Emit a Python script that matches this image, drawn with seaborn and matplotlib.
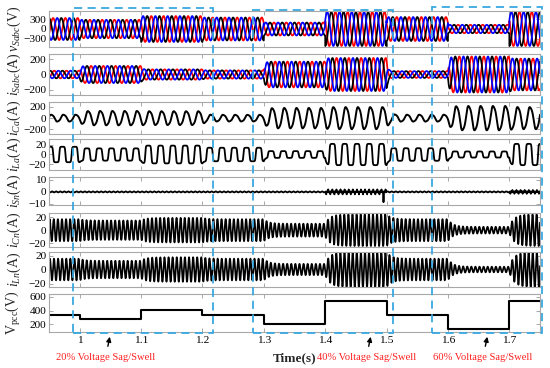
import numpy as np
import pandas as pd
import matplotlib
matplotlib.use("Agg")
import matplotlib.pyplot as plt
import seaborn as sns
from matplotlib.patches import Rectangle
from matplotlib.transforms import blended_transform_factory

# ---------------- data ----------------
seg_edges = [0.95, 1.0, 1.1, 1.2, 1.3, 1.4, 1.5, 1.6, 1.7, 1.75]
vpcc = [340, 275, 410, 340, 205, 540, 340, 135, 545]          # V
vs_amp = [340, 285, 400, 355, 200, 525, 370, 130, 525]         # V
is_amp = [50, 113, 68, 55, 170, 218, 45, 238, 210]             # A
ica_amp = [62, 130, 125, 60, 185, 200, 62, 220, 200]           # A
ila_amp = [16, 12.7, 18.4, 14, 7, 22, 13, 6.3, 22]             # A
icn_amp = [17, 15, 19, 17, 10, 24.5, 17, 5.2, 24.5]            # A
iln_amp = [15.5, 12.5, 17.5, 15.5, 8, 25, 15.5, 4, 25]         # A
isn_ripple = 0.4
isn_spike_start = [1.40, 1.70]
isn_spike_end = [1.50, 1.75]
isn_spike_amp = [2.5, 2.0]
isn_big_spike_t = [1.495]
isn_big_spike_amp = [-6.5]

xticks = [1.0, 1.1, 1.2, 1.3, 1.4, 1.5, 1.6, 1.7]
xtick_labels = ["1", "1.1", "1.2", "1.3", "1.4", "1.5", "1.6", "1.7"]
ylabels = [r"$v_{Sabc}$(V)", r"$i_{Sabc}$(A)", r"$i_{Ca}$(A)", r"$i_{La}$(A)",
           r"$i_{Sn}$(A)", r"$i_{Cn}$(A)", r"$i_{Ln}$(A)", r"$\mathrm{V_{pcc}}$(V)"]
yticks = [[-300, 0, 300], [-200, 0, 200], [-200, 0, 200], [-20, 0, 20],
          [-10, 0, 10], [-20, 0, 20], [-20, 0, 20], [200, 400, 600]]
ylims = [(-555, 555), (-270, 270), (-280, 285), (-32, 32),
         (-11, 12.5), (-26, 26.5), (-25, 25), (90, 640)]
box_spans = [(0.989, 1.217), (1.283, 1.511), (1.574, 1.753)]
box_labels = ["20% Voltage Sag/Swell", "40% Voltage Sag/Swell", "60% Voltage Sag/Swell"]
box_label_x = [1.042, 1.467, 1.657]

# ---------------- waveforms ----------------
dt = 1e-4
t = np.arange(seg_edges[0], seg_edges[-1] + 1e-9, dt)
w = 2 * np.pi * 50


def envelope(amps, tau=0.0):
    idx = np.clip(np.searchsorted(seg_edges, t, side="right") - 1, 0, len(amps) - 1)
    e = np.asarray(amps, float)[idx]
    if tau > 0:
        e = pd.Series(e).ewm(alpha=dt / tau).mean().to_numpy()
    return e


ph = w * (t - 0.95)
phases = {"a": -2 * np.pi / 3, "b": 0.0, "c": 2 * np.pi / 3}
order = ["a", "b", "c"]
pal = {"a": "#ff0000", "b": "#000000", "c": "#0000ff"}

env_vs = envelope(vs_amp)
df_vs = pd.concat([pd.DataFrame({"t": t, "y": env_vs * np.cos(ph + phases[p]), "phase": p})
                   for p in order], ignore_index=True)
env_is = envelope(is_amp, 0.002)
df_is = pd.concat([pd.DataFrame({"t": t, "y": env_is * np.cos(ph + phases[p] - 0.6), "phase": p})
                   for p in order], ignore_index=True)

ica = envelope(ica_amp, 0.004) * (np.sin(ph + 0.3) + 0.08 * np.sin(3 * ph))
ila = envelope(ila_amp, 0.002) * np.tanh(3.5 * np.sin(ph + 1.0)) / np.tanh(3.5)
isn = isn_ripple * np.sin(3 * w * t)
for s0, s1, a in zip(isn_spike_start, isn_spike_end, isn_spike_amp):
    m = (t >= s0) & (t <= s1)
    isn[m] += a * np.sin(3 * ph[m]) ** 41
for ts, a in zip(isn_big_spike_t, isn_big_spike_amp):
    isn += a * np.exp(-((t - ts) / 3e-4) ** 2)
icn = envelope(icn_amp, 0.008) * np.sin(3 * ph + 0.5)
iln = envelope(iln_amp, 0.008) * np.sin(3 * ph + 0.2)

# ---------------- style ----------------
sns.set_theme(style="white")
plt.rcParams["font.family"] = ["Liberation Serif", "DejaVu Serif"]
plt.rcParams["mathtext.fontset"] = "custom"
plt.rcParams["mathtext.rm"] = "Liberation Serif"
plt.rcParams["mathtext.it"] = "Liberation Serif:italic"
plt.rcParams["mathtext.bf"] = "Liberation Serif:bold"
plt.rcParams["axes.unicode_minus"] = True

W, H = 550, 368
fig = plt.figure(figsize=(W / 100, H / 100), dpi=100)
fig.patch.set_facecolor("white")
panel_px = [(11, 47), (54, 95), (102, 134), (139, 170), (177, 205),
            (213, 247), (252, 287), (294, 332)]
left_px, right_px = 49, 540
axes = []
for top, bot in panel_px:
    ax = fig.add_axes([left_px / W, 1 - bot / H, (right_px - left_px) / W, (bot - top) / H])
    axes.append(ax)

sns.lineplot(data=df_vs, x="t", y="y", hue="phase", hue_order=order, palette=pal,
             ax=axes[0], lw=1.25, legend=False, estimator=None, sort=False)
sns.lineplot(data=df_is, x="t", y="y", hue="phase", hue_order=order, palette=pal,
             ax=axes[1], lw=1.25, legend=False, estimator=None, sort=False)
sns.lineplot(x=t, y=ica, ax=axes[2], color="black", lw=1.4, estimator=None, sort=False)
sns.lineplot(x=t, y=ila, ax=axes[3], color="black", lw=1.3, estimator=None, sort=False)
sns.lineplot(x=t, y=isn, ax=axes[4], color="black", lw=1.3, estimator=None, sort=False)
sns.lineplot(x=t, y=icn, ax=axes[5], color="black", lw=1.25, estimator=None, sort=False)
sns.lineplot(x=t, y=iln, ax=axes[6], color="black", lw=1.25, estimator=None, sort=False)
sns.lineplot(x=seg_edges, y=vpcc + [vpcc[-1]], ax=axes[7], color="black", lw=1.5,
             drawstyle="steps-post", estimator=None, sort=False)

frame = "#a8a8a8"
for i, ax in enumerate(axes):
    ax.set_xlim(seg_edges[0], seg_edges[-1])
    ax.set_ylim(*ylims[i])
    ax.set_yticks(yticks[i])
    ax.set_yticklabels([str(v).replace("-", "\u2212") for v in yticks[i]])
    ax.set_xticks(xticks)
    ax.tick_params(direction="in", length=3, width=0.7, color=frame, labelsize=8.2,
                   left=True, right=True, top=True, bottom=True, pad=2,
                   labelcolor="black")
    for sp in ax.spines.values():
        sp.set_color(frame)
        sp.set_linewidth(0.8)
    ax.set_ylabel(ylabels[i], fontsize=10, labelpad=0)
    ax.yaxis.set_label_coords(-0.053, 0.5)
    if i < 7:
        ax.set_xticklabels([])
        ax.set_xlabel("")
    else:
        ax.set_xticklabels(xtick_labels)
        ax.set_xlabel("Time(s)", fontsize=9.5, fontweight="bold")
        ax.xaxis.set_label_coords(0.5, -0.53)
        ax.tick_params(axis="x", pad=3)

# dashed highlight boxes and their notes
trans = blended_transform_factory(axes[7].transData, fig.transFigure)
box_top_px = [8, 10, 7]
box_bot_px = 333
for (x0, x1), tp in zip(box_spans, box_top_px):
    y0 = 1 - box_bot_px / H
    y1 = 1 - tp / H
    fig.patches.append(Rectangle((x0, y0), x1 - x0, y1 - y0, transform=trans, fill=False,
                                 edgecolor="#3aa8e0", lw=1.3, ls=(0, (4.5, 3)),
                                 clip_on=False, zorder=10))
for lab, xc in zip(box_labels, box_label_x):
    fig.text(xc, 1 - 358 / H, lab, transform=trans, ha="center", va="center",
             color="#ff2020", fontsize=7.6)
    axes[7].annotate("", xy=(xc + 0.008, 1 - 334 / H), xycoords=trans,
                     xytext=(xc + 0.003, 1 - 349 / H), textcoords=trans,
                     arrowprops=dict(arrowstyle="-|>", color="black", lw=1.0,
                                     mutation_scale=7), annotation_clip=False)

fig.savefig("out.png", dpi=100, facecolor="white")
